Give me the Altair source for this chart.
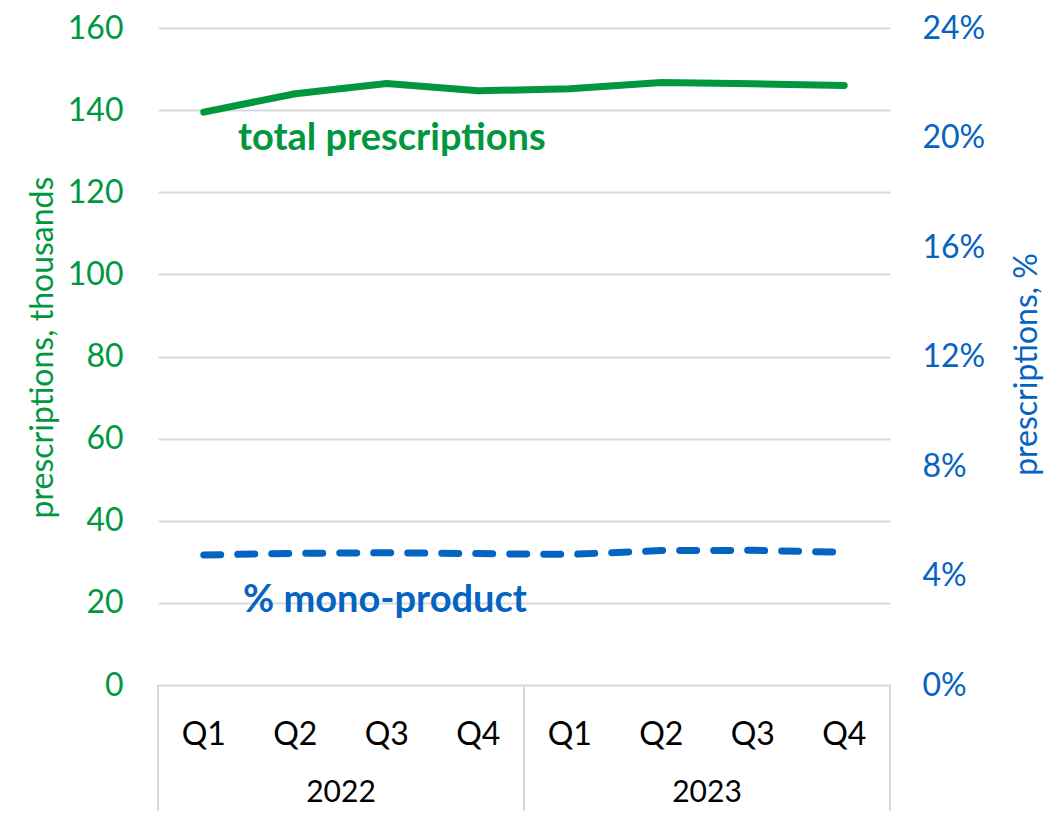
import altair as alt
import pandas as pd

# ---- data ----
quarters = ["Q1", "Q2", "Q3", "Q4", "Q1", "Q2", "Q3", "Q4"]
years = ["2022", "2022", "2022", "2022", "2023", "2023", "2023", "2023"]
total_thousands = [139.5, 144.0, 146.5, 144.7, 145.2, 146.7, 146.4, 146.0]
mono_pct = [4.75, 4.81, 4.83, 4.80, 4.77, 4.91, 4.92, 4.85]

year_names = ["2022", "2023"]
year_centers = [1.5, 5.5]
year_bounds = [-0.5, 3.5, 7.5]

left_ticks = [0, 20, 40, 60, 80, 100, 120, 140, 160]
right_ticks = [0, 4, 8, 12, 16, 20, 24]

df = pd.DataFrame({
    "idx": list(range(len(quarters))),
    "quarter": quarters,
    "year": years,
    "total": total_thousands,
    "mono": mono_pct,
})
years_df = pd.DataFrame({"pos": year_centers, "year": year_names})
bounds_df = pd.DataFrame({"pos": year_bounds})

GREEN = "#00973f"
BLUE = "#0563c1"
GRID = "#d9d9d9"
FONT = "Lato"
FS = 32

W, H = 732, 657
xscale = alt.Scale(domain=[-0.5, 7.5])
xenc = alt.X("idx:Q", scale=xscale, axis=None)

green = alt.Chart(df).mark_line(
    color=GREEN, strokeWidth=7, strokeCap="round", strokeJoin="round"
).encode(
    x=xenc,
    y=alt.Y(
        "total:Q",
        scale=alt.Scale(domain=[0, 160]),
        axis=alt.Axis(
            orient="left", values=left_ticks, grid=True, gridColor=GRID, gridWidth=2,
            domain=False, ticks=False, labelColor=GREEN, labelFontSize=FS,
            labelFont=FONT, labelPadding=35,
            title="prescriptions, thousands", titleColor=GREEN, titleFontSize=FS,
            titleFont=FONT, titleFontWeight="normal", titleAngle=270,
            titleX=-116, titleY=319, titleAlign="center", titleBaseline="middle",
        ),
    ),
)

blue = alt.Chart(df).mark_line(
    color=BLUE, strokeWidth=7, strokeCap="round", strokeJoin="round",
    strokeDash=[17, 17],
).encode(
    x=xenc,
    y=alt.Y(
        "mono:Q",
        scale=alt.Scale(domain=[0, 24]),
        axis=alt.Axis(
            orient="right", values=right_ticks, grid=False, domain=False, ticks=False,
            labelExpr="datum.value + '%'", labelColor=BLUE, labelFontSize=FS,
            labelFont=FONT, labelPadding=32,
            title="prescriptions, %", titleColor=BLUE, titleFontSize=FS,
            titleFont=FONT, titleFontWeight="normal", titleAngle=270,
            titleX=136, titleY=336, titleAlign="center", titleBaseline="middle",
        ),
    ),
)

q_labels = alt.Chart(df).mark_text(
    font=FONT, fontSize=FS, color="black", baseline="middle"
).encode(x=xenc, y=alt.value(707), text="quarter:N")

y_labels = alt.Chart(years_df).mark_text(
    font=FONT, fontSize=30, color="black", baseline="middle"
).encode(x=alt.X("pos:Q", scale=xscale, axis=None), y=alt.value(765), text="year:N")

seps = alt.Chart(bounds_df).mark_rule(color=GRID, strokeWidth=2).encode(
    x=alt.X("pos:Q", scale=xscale, axis=None), y=alt.value(H), y2=alt.value(783)
)

ann_total = alt.Chart(pd.DataFrame({"t": ["total prescriptions"]})).mark_text(
    font=FONT, fontSize=38, fontWeight="bold", color=GREEN, align="left", baseline="middle"
).encode(x=alt.value(80), y=alt.value(111), text="t:N")

ann_mono = alt.Chart(pd.DataFrame({"t": ["% mono-product"]})).mark_text(
    font=FONT, fontSize=38, fontWeight="bold", color=BLUE, align="left", baseline="middle"
).encode(x=alt.value(85), y=alt.value(573), text="t:N")

chart = alt.layer(
    seps, green, blue, q_labels, y_labels, ann_total, ann_mono
).resolve_scale(y="independent").properties(
    width=W, height=H,
    autosize=alt.AutoSizeParams(type="none"),
    padding={"left": 150, "top": 20, "right": 160, "bottom": 126},
).configure_view(stroke=None)

chart.save("out.html", embed_options={"renderer": "svg", "actions": False})
